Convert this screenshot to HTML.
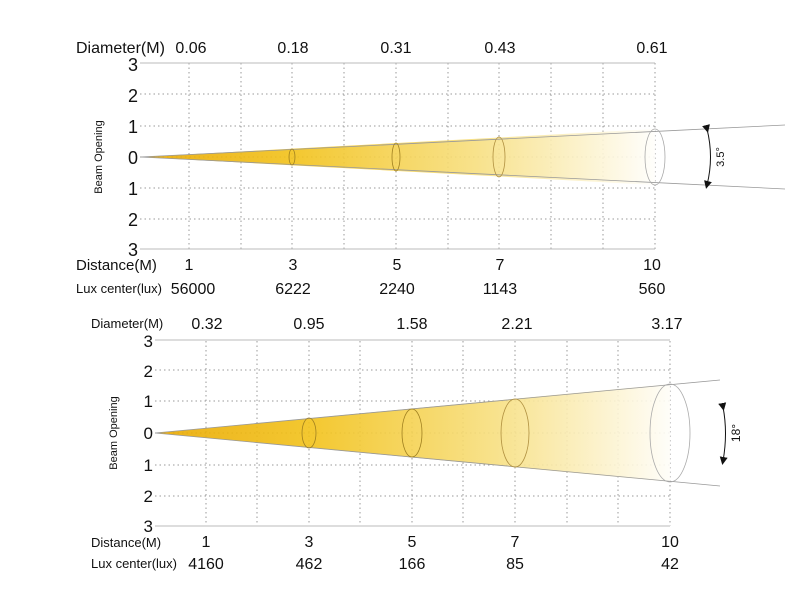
<!DOCTYPE html>
<html><head><meta charset="utf-8"><style>body{margin:0;background:#fff}svg{display:block}text{font-family:"Liberation Sans",sans-serif;fill:#111}</style></head><body>
<svg width="800" height="600" viewBox="0 0 800 600">
<defs>
<linearGradient id="g1" x1="140" y1="0" x2="660" y2="0" gradientUnits="userSpaceOnUse">
<stop offset="0" stop-color="#e9a800"/><stop offset="0.3" stop-color="#f2c21a"/><stop offset="0.65" stop-color="#f7df80"/><stop offset="1" stop-color="#fff"/></linearGradient>
<linearGradient id="g2" x1="155" y1="0" x2="680" y2="0" gradientUnits="userSpaceOnUse">
<stop offset="0" stop-color="#e9a800"/><stop offset="0.3" stop-color="#f2c21a"/><stop offset="0.65" stop-color="#f7df80"/><stop offset="1" stop-color="#fff"/></linearGradient>
<marker id="ah" markerWidth="8" markerHeight="8" refX="4" refY="4" orient="auto"><path d="M0,0 L8,4 L0,8 z" fill="#111"/></marker>
</defs>
<!-- Chart 1 -->
<g stroke="#999" stroke-dasharray="1.5,3" stroke-width="1">
<line x1="140" y1="94" x2="655" y2="94"/><line x1="140" y1="126" x2="655" y2="126"/><line x1="140" y1="157" x2="655" y2="157"/><line x1="140" y1="188" x2="655" y2="188"/><line x1="140" y1="219" x2="655" y2="219"/>
<line x1="189" y1="63" x2="189" y2="249"/><line x1="241" y1="63" x2="241" y2="249"/><line x1="292" y1="63" x2="292" y2="249"/><line x1="344" y1="63" x2="344" y2="249"/><line x1="396" y1="63" x2="396" y2="249"/><line x1="448" y1="63" x2="448" y2="249"/><line x1="499" y1="63" x2="499" y2="249"/><line x1="551" y1="63" x2="551" y2="249"/><line x1="603" y1="63" x2="603" y2="249"/><line x1="655" y1="63" x2="655" y2="249"/>
</g>
<g stroke="#bbb"><line x1="140" y1="63" x2="655" y2="63"/><line x1="140" y1="249" x2="655" y2="249"/></g>
<polygon points="140,157 655,129 655,185" fill="url(#g1)" opacity="0.9"/>
<g stroke="#999" fill="none" stroke-width="0.8"><line x1="140" y1="157" x2="785" y2="125"/><line x1="140" y1="157" x2="785" y2="189"/>
<ellipse cx="292" cy="157" rx="3" ry="8" stroke="#a08020"/><ellipse cx="396" cy="157" rx="4" ry="14" stroke="#a08020"/><ellipse cx="499" cy="157" rx="6" ry="20" stroke="#b09040"/><ellipse cx="655" cy="157" rx="10" ry="28" stroke="#aaa"/></g>
<path d="M707,129 Q714,157 707,185" stroke="#111" fill="none" marker-start="url(#ah)" marker-end="url(#ah)"/>
<text transform="translate(724,157) rotate(-90)" font-size="11" text-anchor="middle">3.5°</text>
<g font-size="16"><text x="76" y="53">Diameter(M)</text>
<g text-anchor="middle"><text x="191" y="53">0.06</text><text x="293" y="53">0.18</text><text x="396" y="53">0.31</text><text x="500" y="53">0.43</text><text x="652" y="53">0.61</text></g>
<g text-anchor="end" font-size="18"><text x="138" y="71">3</text><text x="138" y="102">2</text><text x="138" y="133">1</text><text x="138" y="164">0</text><text x="138" y="195">1</text><text x="138" y="226">2</text><text x="138" y="256">3</text></g>
<text x="76" y="270" font-size="15">Distance(M)</text>
<g text-anchor="middle"><text x="189" y="270">1</text><text x="293" y="270">3</text><text x="397" y="270">5</text><text x="500" y="270">7</text><text x="652" y="270">10</text>
<text x="193" y="294">56000</text><text x="293" y="294">6222</text><text x="397" y="294">2240</text><text x="500" y="294">1143</text><text x="652" y="294">560</text></g>
<text x="76" y="293" font-size="13">Lux center(lux)</text></g>
<text transform="translate(102,157) rotate(-90)" font-size="11" text-anchor="middle">Beam Opening</text>
<!-- Chart 2 -->
<g stroke="#999" stroke-dasharray="1.5,3" stroke-width="1">
<line x1="155" y1="370" x2="670" y2="370"/><line x1="155" y1="401" x2="670" y2="401"/><line x1="155" y1="433" x2="670" y2="433"/><line x1="155" y1="465" x2="670" y2="465"/><line x1="155" y1="496" x2="670" y2="496"/>
<line x1="206" y1="341" x2="206" y2="526"/><line x1="257" y1="341" x2="257" y2="526"/><line x1="309" y1="341" x2="309" y2="526"/><line x1="360" y1="341" x2="360" y2="526"/><line x1="412" y1="341" x2="412" y2="526"/><line x1="463" y1="341" x2="463" y2="526"/><line x1="515" y1="341" x2="515" y2="526"/><line x1="567" y1="341" x2="567" y2="526"/><line x1="618" y1="341" x2="618" y2="526"/><line x1="670" y1="341" x2="670" y2="526"/>
</g>
<g stroke="#bbb"><line x1="155" y1="340" x2="670" y2="340"/><line x1="155" y1="526" x2="670" y2="526"/></g>
<polygon points="155,433 670,384 670,482" fill="url(#g2)" opacity="0.9"/>
<g stroke="#999" fill="none" stroke-width="0.8"><line x1="155" y1="433" x2="720" y2="380"/><line x1="155" y1="433" x2="720" y2="486"/>
<ellipse cx="309" cy="433" rx="7" ry="15" stroke="#a08020"/><ellipse cx="412" cy="433" rx="10" ry="24" stroke="#a08020"/><ellipse cx="515" cy="433" rx="14" ry="34" stroke="#b09040"/><ellipse cx="670" cy="433" rx="20" ry="49" stroke="#aaa"/></g>
<path d="M723,407 Q728,433 723,461" stroke="#111" fill="none" marker-start="url(#ah)" marker-end="url(#ah)"/>
<text transform="translate(740,433) rotate(-90)" font-size="12" text-anchor="middle">18°</text>
<g font-size="16"><text x="91" y="328" font-size="13">Diameter(M)</text>
<g text-anchor="middle"><text x="207" y="329">0.32</text><text x="309" y="329">0.95</text><text x="412" y="329">1.58</text><text x="517" y="329">2.21</text><text x="667" y="329">3.17</text></g>
<g text-anchor="end" font-size="17"><text x="153" y="347">3</text><text x="153" y="377">2</text><text x="153" y="407">1</text><text x="153" y="439">0</text><text x="153" y="471">1</text><text x="153" y="502">2</text><text x="153" y="532">3</text></g>
<text x="91" y="547" font-size="13">Distance(M)</text>
<g text-anchor="middle"><text x="206" y="547">1</text><text x="309" y="547">3</text><text x="412" y="547">5</text><text x="515" y="547">7</text><text x="670" y="547">10</text>
<text x="206" y="569">4160</text><text x="309" y="569">462</text><text x="412" y="569">166</text><text x="515" y="569">85</text><text x="670" y="569">42</text></g>
<text x="91" y="568" font-size="13">Lux center(lux)</text></g>
<text transform="translate(117,433) rotate(-90)" font-size="11" text-anchor="middle">Beam Opening</text>
</svg>
</body></html>
